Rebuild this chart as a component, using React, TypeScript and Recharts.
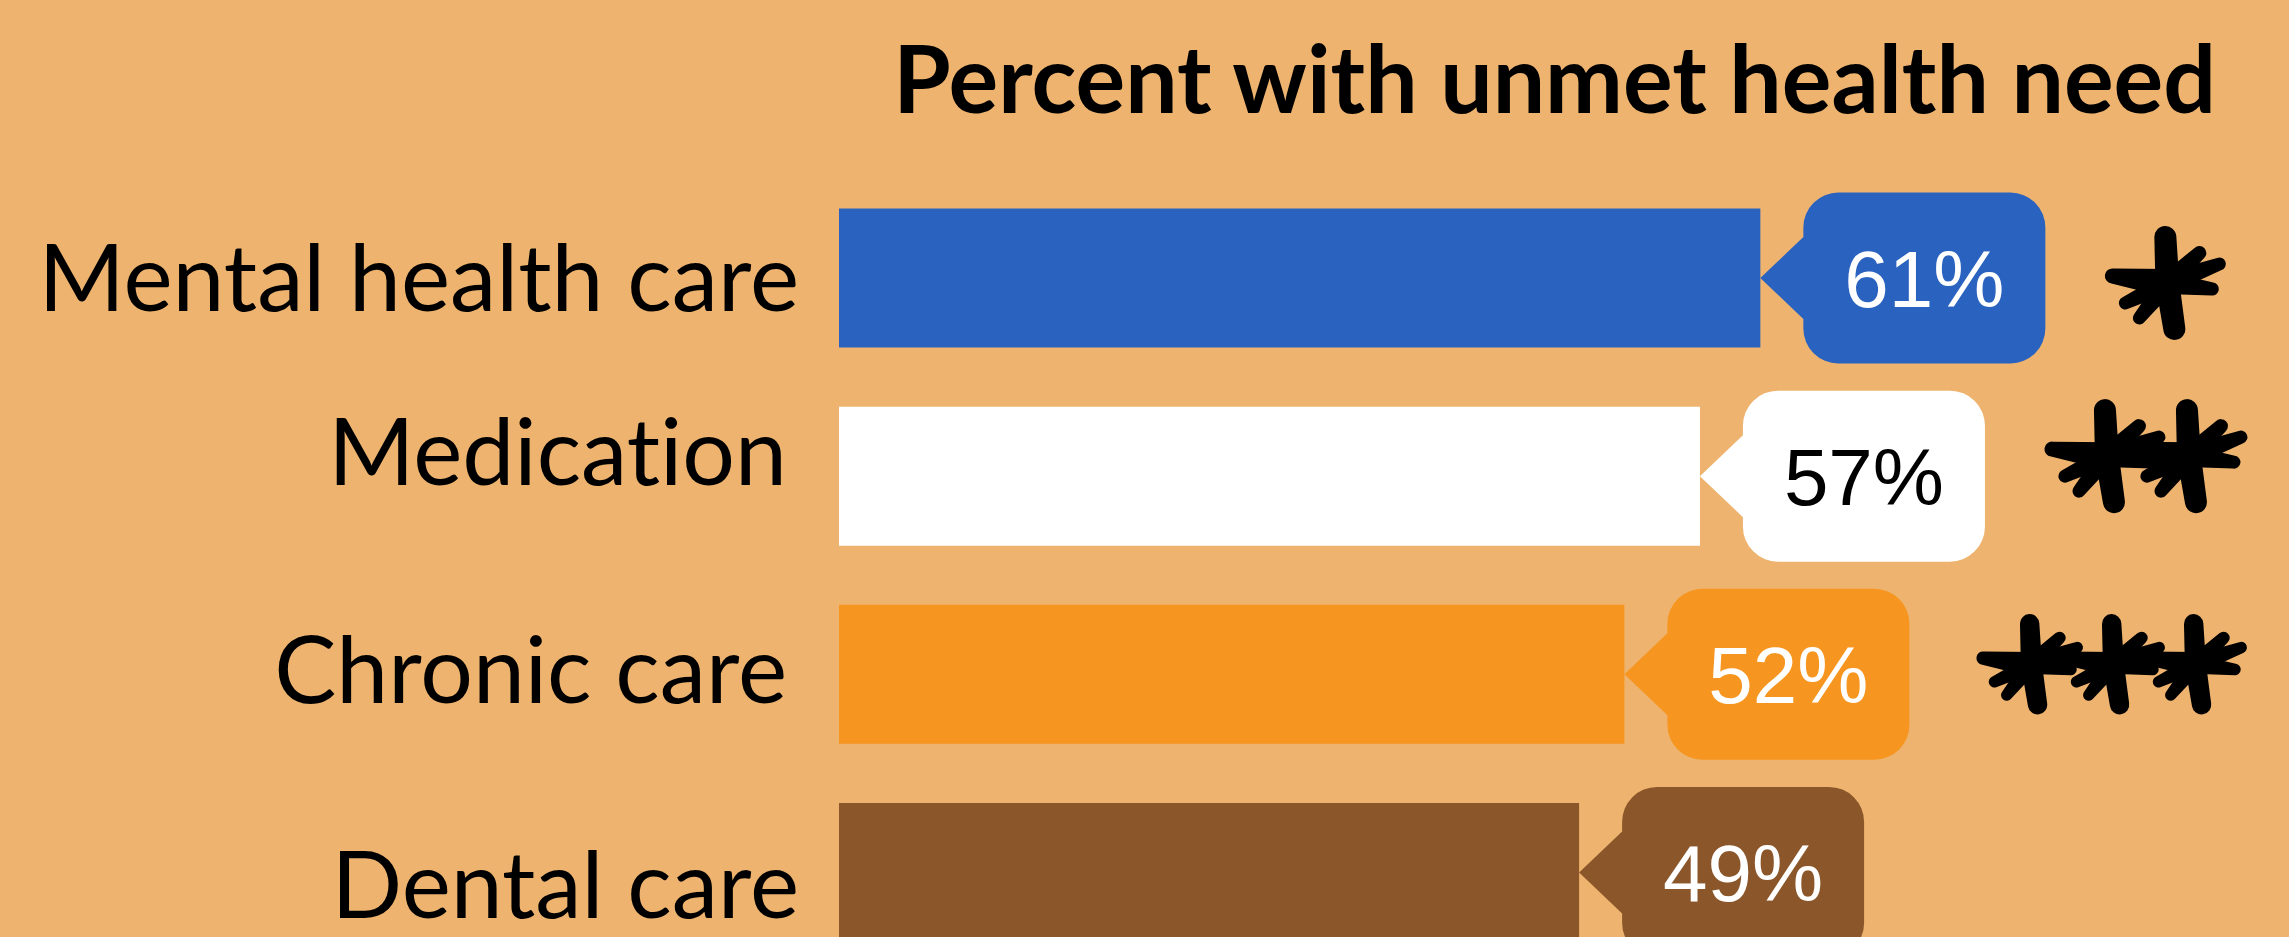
import React from 'react';
import { BarChart, Bar, XAxis, YAxis, Cell, LabelList } from 'recharts';

// chart data
const categories = ['Mental health care', 'Medication', 'Chronic care', 'Dental care'];
const percents = [61, 57, 52, 49];
const starCounts = [1, 2, 3, 0];
const barColors = ['#2a62c0', '#ffffff', '#f6951f', '#8b572a'];
const valueColors = ['#ffffff', '#000000', '#ffffff', '#ffffff'];

const data = categories.map((name, i) => ({ name, pct: percents[i] }));

const BG = '#eeb46f';

// small hand nudges for the category text and the asterisks (the source isn't perfectly aligned)
const LABEL_NUDGE = [[0, 0], [-12, -24], [-12, -4], [0, 13]];
const STAR_NUDGE = [5, -20, -10, 0];

// asterisk glyph: petals from the centre, [tipX, tipY, baseWidth, tipWidth]
const PETALS = [
  [-2, -46, 24, 22],
  [7, 46, 24, 22],
  [-55, -7, 28, 15],
  [32, -30, 20, 14],
  [52, -19, 22, 13],
  [45, 6, 22, 13],
  [-42, 20, 20, 13],
  [-28, 35, 20, 13],
];

function petalPath(tx: number, ty: number, bw: number, tw: number) {
  const len = Math.hypot(tx, ty);
  const px = -ty / len;
  const py = tx / len;
  const r = tw / 2;
  return `M${px * bw / 2},${py * bw / 2} L${tx + px * r},${ty + py * r} A${r},${r} 0 0 0 ${tx - px * r},${ty - py * r} L${-px * bw / 2},${-py * bw / 2} Z`;
}

function Asterisk({ cx, cy, scale }: { cx: number; cy: number; scale: number }) {
  return (
    <g transform={`translate(${cx},${cy}) scale(${scale})`} fill="#000">
      <circle r={15} />
      {PETALS.map((p, i) => (
        <path key={i} d={petalPath(p[0], p[1], p[2], p[3])} />
      ))}
    </g>
  );
}

function CategoryTick(props: any) {
  const { x, y, payload } = props;
  const i = categories.indexOf(payload.value);
  const [dx, dy] = LABEL_NUDGE[i] ?? [0, 0];
  return (
    <text
      x={x + dx}
      y={y + dy + 33}
      textAnchor="end"
      fontFamily="Lato"
      fontSize={93}
      fill="#000"
      style={{ fontVariantLigatures: 'none' }}
    >
      {payload.value}
    </text>
  );
}

function Callout(props: any) {
  const { x, y, width, height, value } = props;
  const i = percents.indexOf(value);
  const tip = x + width;
  const cy = y + height / 2;
  const bl = tip + 43;
  const br = bl + 242;
  const top = cy - 85.5;
  const bot = cy + 85.5;
  const r = 35;
  const d = [
    `M${tip},${cy}`,
    `L${bl},${cy - 41}`,
    `L${bl},${top + r}`,
    `A${r},${r} 0 0 1 ${bl + r},${top}`,
    `L${br - r},${top}`,
    `A${r},${r} 0 0 1 ${br},${top + r}`,
    `L${br},${bot - r}`,
    `A${r},${r} 0 0 1 ${br - r},${bot}`,
    `L${bl + r},${bot}`,
    `A${r},${r} 0 0 1 ${bl},${bot - r}`,
    `L${bl},${cy + 41}`,
    'Z',
  ].join(' ');
  const n = starCounts[i] ?? 0;
  const s = n >= 3 ? 0.88 : 1;
  return (
    <g>
      <path d={d} fill={barColors[i]} />
      <text
        x={(bl + br) / 2}
        y={cy + 28.5}
        textAnchor="middle"
        fontFamily="'Liberation Sans', Arial, sans-serif"
        fontSize={80}
        fill={valueColors[i]}
      >
        {value}%
      </text>
      {Array.from({ length: n }).map((_, k) => (
        <Asterisk key={k} cx={br + 122 + k * 82} cy={cy + STAR_NUDGE[i]} scale={s} />
      ))}
    </g>
  );
}

export default function App() {
  return (
    <div style={{ position: 'fixed', left: 0, top: 0, width: 2289, height: 937, overflow: 'hidden', background: BG }}>
      <div
        style={{
          position: 'absolute',
          right: 73,
          top: 31,
          fontFamily: 'Lato',
          fontWeight: 700,
          fontSize: 93,
          lineHeight: '93px',
          color: '#000',
          whiteSpace: 'nowrap',
        }}
      >
        Percent with unmet health need
      </div>
      <BarChart
        width={2289}
        height={971}
        data={data}
        layout="vertical"
        margin={{ top: 178.5, right: 0, bottom: 0, left: 0 }}
      >
        <XAxis type="number" domain={[0, 96]} hide />
        <YAxis
          type="category"
          dataKey="name"
          width={839}
          axisLine={false}
          tickLine={false}
          tickSize={0}
          tickMargin={40}
          tick={<CategoryTick />}
          interval={0}
        />
        <Bar dataKey="pct" barSize={139} isAnimationActive={false}>
          {data.map((d, i) => (
            <Cell key={d.name} fill={barColors[i]} />
          ))}
          <LabelList dataKey="pct" content={<Callout />} />
        </Bar>
      </BarChart>
    </div>
  );
}
